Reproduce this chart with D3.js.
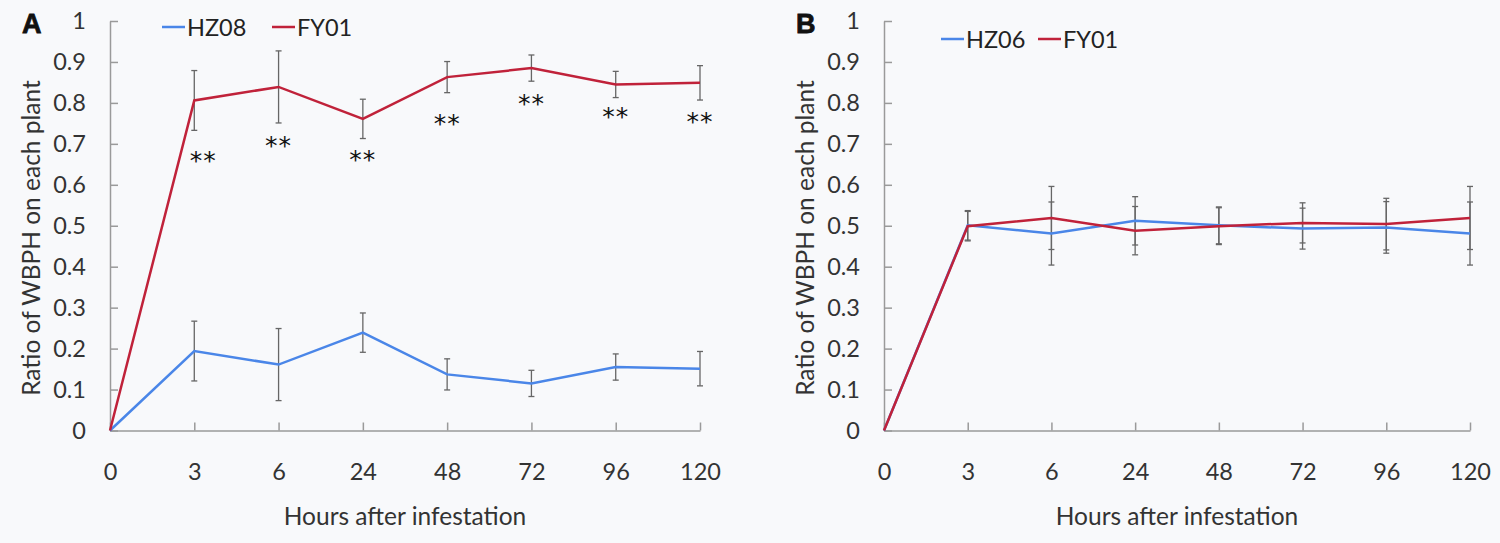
<!DOCTYPE html>
<html>
<head>
<meta charset="utf-8">
<script src="https://cdn.jsdelivr.net/npm/d3@7"></script>
<style>
  body { margin: 0; background: #f8f9fb; }
  svg { display: block; }
</style>
</head>
<body>
<div id="chart"></div>
<script>
// x categories (hours after infestation)
const hours = ["0", "3", "6", "24", "48", "72", "96", "120"];
const yTicks = [0, 0.1, 0.2, 0.3, 0.4, 0.5, 0.6, 0.7, 0.8, 0.9, 1];

// panel A
const hz08 = [0, 0.194, 0.161, 0.239, 0.137, 0.115, 0.155, 0.151];
const hz08Err = [0, 0.073, 0.088, 0.048, 0.038, 0.032, 0.032, 0.042];
const fy01A = [0, 0.806, 0.839, 0.761, 0.863, 0.885, 0.845, 0.849];
const fy01AErr = [0, 0.073, 0.088, 0.048, 0.038, 0.032, 0.032, 0.042];
const sigA = ["", "**", "**", "**", "**", "**", "**", "**"];
const sigALevel = [0, 0.665, 0.702, 0.668, 0.755, 0.804, 0.774, 0.760];

// panel B
const hz06 = [0, 0.501, 0.481, 0.512, 0.501, 0.493, 0.496, 0.481];
const hz06Err = [0, 0.036, 0.077, 0.059, 0.045, 0.050, 0.063, 0.077];
const fy01B = [0, 0.499, 0.519, 0.488, 0.499, 0.507, 0.504, 0.519];
const fy01BErr = [0, 0.036, 0.077, 0.059, 0.045, 0.049, 0.063, 0.077];

const W = 1500, H = 543
const blue = "#4a86e8", red = "#c0223a"
const font = "Lato, 'Open Sans', sans-serif"

const svg = d3.select("#chart").append("svg")
  .attr("width", W)
  .attr("height", H)
  .style("background", "#f8f9fb")

function drawPanel(opt) {
  const g = svg.append("g")

  const x = d3.scalePoint()
    .domain(hours)
    .range(opt.xRange)
  const y = d3.scaleLinear()
    .domain([0, 1])
    .range([430.5, 21])

  // axes, ticks point inwards
  const yAxis = d3.axisLeft(y)
    .tickValues(yTicks)
    .tickSize(-8)
    .tickSizeOuter(0)
    .tickPadding(24)
    .tickFormat(d => d === 0 || d === 1 ? String(d) : d.toFixed(1))
  const xAxis = d3.axisBottom(x)
    .tickSize(-8)
    .tickSizeOuter(0)
    .tickPadding(33)

  g.append("g")
    .attr("transform", `translate(${opt.xRange[0]},0)`)
    .call(yAxis)
    .call(a => a.selectAll("path,line").attr("stroke", "#9a9a9a").attr("stroke-width", 1.5))
    .call(a => a.selectAll("text").attr("fill", "#333").style("font", `23.5px ${font}`))
  g.append("g")
    .attr("transform", `translate(0,${y(0)})`)
    .call(xAxis)
    .call(a => a.selectAll("path,line").attr("stroke", "#9a9a9a").attr("stroke-width", 1.5))
    .call(a => a.selectAll("text").attr("fill", "#333").style("font", `23.5px ${font}`))

  // axis titles
  g.append("text")
    .attr("x", (opt.xRange[0] + opt.xRange[1]) / 2)
    .attr("y", 525)
    .attr("text-anchor", "middle")
    .attr("fill", "#333")
    .style("font", `24.5px ${font}`)
    .text("Hours after infestation")
  g.append("text")
    .attr("transform", `translate(${opt.xRange[0] - 70},${y(0.47)}) rotate(-90)`)
    .attr("text-anchor", "middle")
    .attr("fill", "#333")
    .style("font", `24.5px ${font}`)
    .text("Ratio of WBPH on each plant")

  // panel letter
  g.append("text")
    .attr("x", opt.xRange[0] - 88)
    .attr("y", 33)
    .attr("fill", "#111")
    .style("font", `900 27px Arial, 'Liberation Sans', sans-serif`)
    .attr("stroke", "#111")
    .attr("stroke-width", 0.8)
    .text(opt.letter)

  // error bars then lines
  opt.series.forEach(s => {
    const eb = g.append("g").attr("stroke", "#666").attr("stroke-width", 1.3)
    s.values.forEach((v, i) => {
      const e = s.err[i]
      if (!e) return
      const cx = x(hours[i])
      eb.append("line").attr("x1", cx).attr("x2", cx).attr("y1", y(v - e)).attr("y2", y(v + e))
      eb.append("line").attr("x1", cx - 3).attr("x2", cx + 3).attr("y1", y(v - e)).attr("y2", y(v - e))
      eb.append("line").attr("x1", cx - 3).attr("x2", cx + 3).attr("y1", y(v + e)).attr("y2", y(v + e))
    })
  })

  const line = d3.line()
    .x((d, i) => x(hours[i]))
    .y(d => y(d))
  opt.series.forEach(s => {
    g.append("path")
      .datum(s.values)
      .attr("fill", "none")
      .attr("stroke", s.color)
      .attr("stroke-width", 2.5)
      .attr("d", line)
  })

  // significance marks
  if (opt.sig) {
    g.append("g").selectAll("text")
      .data(opt.sig)
      .join("text")
      .attr("x", (d, i) => x(hours[i]) + (i === 1 ? 9 : 0))
      .attr("y", (d, i) => y(opt.sigLevel[i]) + 11)
      .attr("text-anchor", "middle")
      .attr("fill", "#111")
      .style("font", `25px 'DejaVu Sans', sans-serif`)
      .style("letter-spacing", "1px")
      .text(d => d)
  }

  // legend
  const lg = g.append("g")
  opt.series.forEach((s, i) => {
    const lx = opt.legend[i][0], ly = opt.legend[i][1]
    lg.append("line")
      .attr("x1", lx).attr("x2", lx + 23)
      .attr("y1", ly).attr("y2", ly)
      .attr("stroke", s.color).attr("stroke-width", 2.5)
    lg.append("text")
      .attr("x", lx + 25)
      .attr("y", ly + 8.5)
      .attr("fill", "#222")
      .style("font", `23.5px ${font}`)
      .text(s.name)
  })
}

drawPanel({
  letter: "A",
  xRange: [110, 700],
  series: [
    { name: "HZ08", values: hz08, err: hz08Err, color: blue },
    { name: "FY01", values: fy01A, err: fy01AErr, color: red }
  ],
  legend: [[162, 27], [272, 27]],
  sig: sigA,
  sigLevel: sigALevel
})

drawPanel({
  letter: "B",
  xRange: [884, 1470],
  series: [
    { name: "HZ06", values: hz06, err: hz06Err, color: blue },
    { name: "FY01", values: fy01B, err: fy01BErr, color: red }
  ],
  legend: [[941, 39], [1038, 39]]
})
</script>
</body>
</html>
